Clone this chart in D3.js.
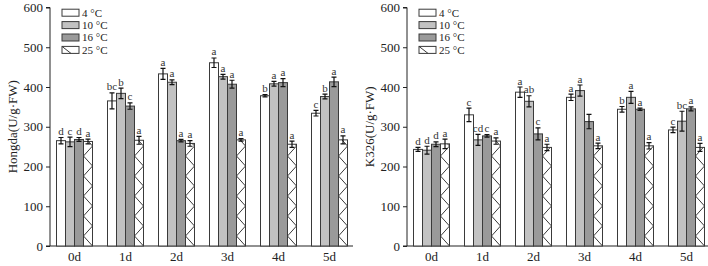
<!DOCTYPE html>
<meta charset="utf-8">
<script src="https://d3js.org/d3.v7.min.js"></script>
<style>
  body { margin: 0; background: #fff; }
  text { font-family: "Liberation Serif", "DejaVu Serif", serif; }
</style>
<div id="chart"></div>
<script>

// categories
var days = ["0d", "1d", "2d", "3d", "4d", "5d"];
var temps = ["4 °C", "10 °C", "16 °C", "25 °C"];
var yTicks = [0, 100, 200, 300, 400, 500, 600];

// Hongda: one row per day, one value per temperature
var hongdaMean = [
  [265, 262, 268, 263],
  [365, 384, 352, 266],
  [433, 412, 265, 258],
  [461, 426, 407, 267],
  [378, 408, 411, 256],
  [334, 376, 413, 267]
];
var hongdaErr = [
  [8, 12, 5, 6],
  [20, 13, 8, 10],
  [14, 6, 3, 7],
  [12, 6, 10, 3],
  [3, 6, 10, 8],
  [7, 6, 12, 10]
];
var hongdaSig = [
  ["d", "c", "d", "a"],
  ["bc", "b", "c", "a"],
  ["a", "a", "a", "a"],
  ["a", "a", "a", "a"],
  ["b", "a", "a", "a"],
  ["c", "b", "a", "a"]
];

// K326
var k326Mean = [
  [243, 241, 256, 257],
  [330, 267, 277, 264],
  [387, 364, 282, 248],
  [374, 391, 313, 252],
  [344, 374, 344, 252],
  [292, 314, 345, 248]
];
var k326Err = [
  [5, 10, 6, 12],
  [17, 14, 3, 8],
  [13, 14, 15, 8],
  [8, 14, 18, 7],
  [7, 15, 3, 8],
  [7, 25, 5, 10]
];
var k326Sig = [
  ["d", "d", "d", "a"],
  ["c", "cd", "c", "a"],
  ["a", "ab", "c", "a"],
  ["a", "a", "", "a"],
  ["b", "a", "a", "a"],
  ["c", "bc", "a", "a"]
];

var fills = ["#ffffff", "#c2c2c2", "#9a9a9a", "#ffffff"];
var edge = "#3a3a3a";

var svg = d3.select("#chart").append("svg")
  .attr("width", 708)
  .attr("height", 266);

var y = d3.scaleLinear().domain([0, 600]).range([246, 7.5]);

function panel(left, title, titleX, means, errs, sigs) {
  var g = svg.append("g");

  var x = d3.scaleBand().domain(days).range([left - 1, left + 305]);
  var inner = d3.scaleBand().domain(d3.range(4)).range([7.5, 43.5]);

  // y axis
  var ay = g.append("g")
    .attr("transform", "translate(" + left + ",0)")
    .call(d3.axisLeft(y).tickValues(yTicks).tickSize(4).tickPadding(3));
  ay.select(".domain").attr("stroke", "#222").attr("d", "M-4," + y(600) + "H0V" + y(0) + "H-4");
  ay.selectAll(".tick line").attr("stroke", "#222");
  ay.selectAll(".tick text").attr("font-size", 13).attr("fill", "#222")
    .style("font-family", "Liberation Serif, serif");

  // x axis (no tick marks)
  var ax = g.append("g")
    .attr("transform", "translate(0," + y(0) + ")")
    .call(d3.axisBottom(x).tickSize(0).tickPadding(6));
  ax.select(".domain").attr("stroke", "#222").attr("d", "M" + left + ",0H" + (left + 303));
  ax.selectAll(".tick text").attr("font-size", 13).attr("fill", "#222")
    .style("font-family", "Liberation Serif, serif");

  // axis title
  g.append("text")
    .attr("transform", "translate(" + titleX + "," + (y(0) + y(600)) / 2 + ") rotate(-90)")
    .attr("text-anchor", "middle")
    .attr("dy", "0.35em")
    .attr("font-size", 13)
    .attr("fill", "#222")
    .text(title);

  var bw = inner.bandwidth();

  days.forEach(function(day, i) {
    means[i].forEach(function(v, j) {
      var bx = x(day) + inner(j);
      var top = y(v);
      g.append("rect")
        .attr("x", bx).attr("y", top)
        .attr("width", bw).attr("height", y(0) - top)
        .attr("fill", fills[j])
        .attr("stroke", edge).attr("stroke-width", 1);

      if (j === 3) {
        // zigzag hatch inside the 25 °C bar
        var pts = [];
        var k = 0;
        for (var yy = y(0); yy > top - 10; yy -= 10) {
          pts.push([k % 2 === 0 ? bx + bw : bx, yy]);
          k++;
        }
        var cid = "clip-" + left + "-" + i;
        g.append("clipPath").attr("id", cid).append("rect")
          .attr("x", bx).attr("y", top).attr("width", bw).attr("height", y(0) - top);
        g.append("path")
          .attr("d", d3.line()(pts))
          .attr("fill", "none")
          .attr("stroke", edge)
          .attr("stroke-width", 1)
          .attr("clip-path", "url(#" + cid + ")");
      }

      // error bar
      var cx = bx + bw / 2;
      var e = errs[i][j];
      g.append("path")
        .attr("d", "M" + cx + "," + y(v - e) + "V" + y(v + e) +
          "M" + (cx - 2.5) + "," + y(v + e) + "H" + (cx + 2.5) +
          "M" + (cx - 2.5) + "," + y(v - e) + "H" + (cx + 2.5))
        .attr("stroke", "#111").attr("stroke-width", 1.2).attr("fill", "none");

      // significance letter
      g.append("text")
        .attr("x", cx)
        .attr("y", y(v + e) - 2.5)
        .attr("text-anchor", "middle")
        .attr("font-size", 11)
        .attr("fill", "#333")
        .text(sigs[i][j]);
    });
  });

  // legend
  var lx = left + 12;
  temps.forEach(function(t, j) {
    var cy = 12.7 + j * 12.4;
    g.append("rect")
      .attr("x", lx).attr("y", cy - 3.5)
      .attr("width", 17).attr("height", 7)
      .attr("fill", fills[j])
      .attr("stroke", edge).attr("stroke-width", 1);
    if (j === 3) {
      g.append("line")
        .attr("x1", lx).attr("y1", cy - 3.5)
        .attr("x2", lx + 9).attr("y2", cy + 3.5)
        .attr("stroke", edge).attr("stroke-width", 1);
    }
    g.append("text")
      .attr("x", lx + 20).attr("y", cy)
      .attr("dy", "0.35em")
      .attr("font-size", 11)
      .attr("fill", "#222")
      .text(t);
  });
}

panel(50, "Hongda(U/g·FW)", 12, hongdaMean, hongdaErr, hongdaSig);
panel(407, "K326(U/g·FW)", 369, k326Mean, k326Err, k326Sig);

</script>
